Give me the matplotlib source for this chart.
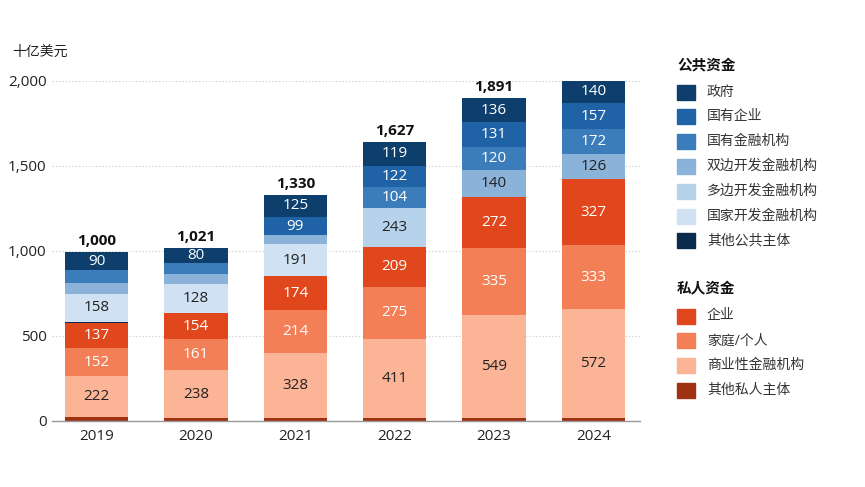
import numpy as np
import matplotlib.pyplot as plt
from matplotlib.patches import Rectangle

plt.rcParams['font.family'] = ['Open Sans', 'Noto Sans CJK SC', 'DejaVu Sans']

years = ['2019', '2020', '2021', '2022', '2023', '2024']
totals = [1000, 1021, 1330, 1627, 1891, 2008]

# segment heights as drawn (bn USD)
gov           = [110,  92, 128, 137, 137, 137]
soe           = [  0,   0, 110, 128, 147, 151]
state_fin     = [ 75,  63,   0, 124, 137, 147]
bilateral     = [ 61,  57,  53,   0, 161, 147]
multilateral  = [  0,   0,   0, 225,   0,   0]
national      = [166, 169, 188,   0,   0,   0]
other_public  = [  5,   5,   0,   0,   0,   0]
corporates    = [149, 149, 196, 235, 300, 388]
households    = [166, 186, 257, 310, 392, 378]
commercial    = [243, 278, 382, 465, 608, 641]
other_private = [ 19,  18,  14,  14,  14,  14]

# value labels printed on the segments
gov_lbl          = [90, 80, 125, 119, 136, 140]
soe_lbl          = [None, None, 99, 122, 131, 157]
state_fin_lbl    = [None, None, None, 104, 120, 172]
bilateral_lbl    = [None, None, None, None, 140, 126]
multilateral_lbl = [None, None, None, 243, None, None]
national_lbl     = [158, 128, 191, None, None, None]
corporates_lbl   = [137, 154, 174, 209, 272, 327]
households_lbl   = [152, 161, 214, 275, 335, 333]
commercial_lbl   = [222, 238, 328, 411, 549, 572]

public_names = ['政府', '国有企业', '国有金融机构', '双边开发金融机构',
                '多边开发金融机构', '国家开发金融机构', '其他公共主体']
private_names = ['企业', '家庭/个人', '商业性金融机构', '其他私人主体']
public_colors = ['#0e3f6c', '#1f63a6', '#3b7dbb', '#8bb3d9',
                 '#b7d3eb', '#cfe1f2', '#0b2b4c']
private_colors = ['#e1471d', '#f27f56', '#fbb596', '#9e3212']

DARK = '#222222'
# bottom -> top
stack = [
    (other_private, None, private_colors[3], None),
    (commercial, commercial_lbl, private_colors[2], DARK),
    (households, households_lbl, private_colors[1], 'white'),
    (corporates, corporates_lbl, private_colors[0], 'white'),
    (other_public, None, public_colors[6], None),
    (national, national_lbl, public_colors[5], DARK),
    (multilateral, multilateral_lbl, public_colors[4], DARK),
    (bilateral, bilateral_lbl, public_colors[3], DARK),
    (state_fin, state_fin_lbl, public_colors[2], 'white'),
    (soe, soe_lbl, public_colors[1], 'white'),
    (gov, gov_lbl, public_colors[0], 'white'),
]

W, H = 865, 487
fig = plt.figure(figsize=(W / 100, H / 100), dpi=100)
fig.patch.set_facecolor('white')
ax = fig.add_axes([52 / W, 1 - 420.7 / H, (640 - 52) / W, 340 / H])

x = np.arange(len(years))
bottom = np.zeros(len(years))
for vals, lbls, col, tcol in stack:
    vals = np.array(vals, dtype=float)
    ax.bar(x, vals, 0.64, bottom=bottom, color=col, linewidth=0, zorder=3)
    if lbls is not None:
        for i, l in enumerate(lbls):
            if l is not None:
                ax.text(x[i], bottom[i] + vals[i] / 2, str(l), ha='center', va='center',
                        fontsize=11, color=tcol, zorder=4)
    bottom += vals

for i, t in enumerate(totals):
    ax.annotate(f'{t:,}', (x[i], bottom[i]), xytext=(0, 3), textcoords='offset points',
                ha='center', va='bottom', fontsize=11, fontweight='bold', color='#111111')

ax.set_xlim(-0.45, 5.47)
ax.set_ylim(0, 2000)
ax.set_yticks([0, 500, 1000, 1500, 2000])
ax.set_yticklabels(['0', '500', '1,000', '1,500', '2,000'])
ax.set_xticks(x)
ax.set_xticklabels(years)
ax.tick_params(axis='both', length=0, labelsize=11, colors='#222222')
ax.tick_params(axis='y', pad=4)
ax.tick_params(axis='x', pad=6)
ax.yaxis.grid(True, linestyle=(0, (1, 2)), color='#c8c8c8', linewidth=0.8, zorder=0)
for s in ['top', 'right', 'left']:
    ax.spines[s].set_visible(False)
ax.spines['bottom'].set_color('#999999')
ax.spines['bottom'].set_linewidth(1.0)
ax.spines['bottom'].set_zorder(5)

fig.text(12 / W, 1 - 52 / H, '十亿美元', ha='left', va='center', fontsize=10, color='#222222')

# legend
def px(xp, yp):
    return xp / W, 1 - yp / H

def legend_group(title, names, colors, y0):
    fig.text(*px(677, y0), title, ha='left', va='center', fontsize=10.5,
             fontweight='bold', color='#111111')
    for k, (n, c) in enumerate(zip(names, colors)):
        yc = y0 + 27 + k * 24.8
        fig.patches.append(Rectangle(px(677, yc + 7.5), 18 / W, 15 / H,
                                     transform=fig.transFigure, color=c))
        fig.text(*px(707, yc), n, ha='left', va='center', fontsize=10, color='#333333')

legend_group('公共资金', public_names, public_colors, 65)
legend_group('私人资金', private_names, private_colors, 289)

fig.savefig('out.png', dpi=100, facecolor='white')
